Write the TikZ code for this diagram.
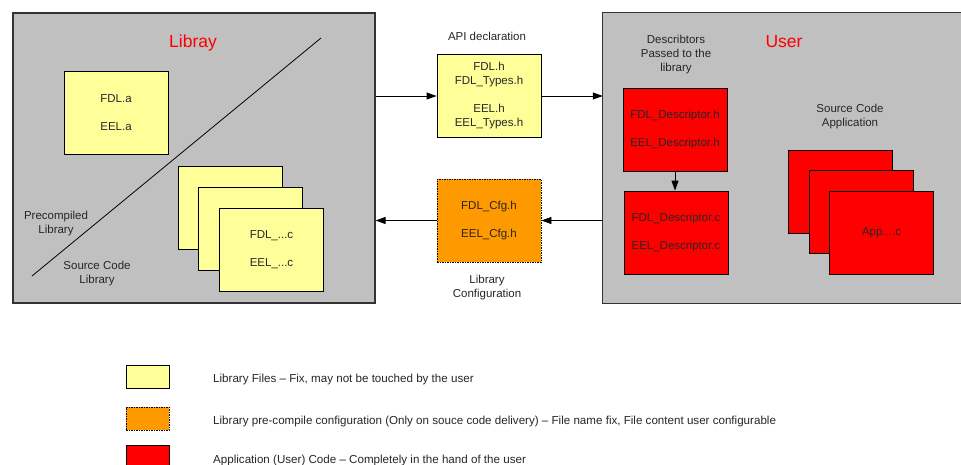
\documentclass[tikz,border=0pt]{standalone}
\usepackage{fontspec}
\setmainfont{Liberation Sans}
\usetikzlibrary{positioning,arrows.meta}

\definecolor{panelgray}{HTML}{C0C0C0}
\definecolor{libyellow}{HTML}{FFFF99}
\definecolor{cfgorange}{HTML}{FF9900}
\definecolor{usrred}{HTML}{FF0000}

\begin{document}
\begin{tikzpicture}[x=1pt,y=-1pt]
\tikzstyle{every node}+=[inner sep=0pt, font=\fontsize{11.5}{14}\selectfont, text=black!85]
\tikzstyle{panel}=[fill=panelgray]
\tikzstyle{panelline}=[draw=black!80, line width=1.2pt]
\tikzstyle{file}=[draw=black, line width=0.8pt, minimum width=104pt, minimum height=83pt, align=center]
\tikzstyle{libfile}=[file, fill=libyellow]
\tikzstyle{cfgfile}=[file, fill=cfgorange, dash pattern=on 1.5pt off 1pt]
\tikzstyle{usrfile}=[file, fill=usrred]
\tikzstyle{key}=[minimum width=43pt, minimum height=23pt]
\tikzstyle{keytext}=[anchor=west, font=\fontsize{11.6}{14}\selectfont]
\tikzstyle{title}=[text=red, font=\fontsize{17.5}{20}\selectfont]
\tikzstyle{note}=[align=center]
\tikzstyle{flow}=[-{Triangle[length=10pt,width=7pt]}, line width=0.8pt]

\useasboundingbox (0,0) rectangle (961,464);

% panels
\node[panel, panelline, minimum width=362pt, minimum height=290pt] (lib) at (194,158) {};
\node[panel, minimum width=359pt, minimum height=290pt] (usr) at (782.5,158) {};
\draw[panelline] (usr.north east) -- (usr.north west) -- (usr.south west) -- (usr.south east);

\node[title] (libtitle) at (193,43) {Libray};
\node[title] (usrtitle) at (784,42) {User};

% library side
\draw[line width=0.8pt] (321,38) -- (32,276);
\node[libfile] (fdla) at (116,112.5) {FDL.a\\[14pt]EEL.a};
\node[libfile] (srcA) at (230,208) {};
\node[libfile] (srcB) at (250.5,228.5) {};
\node[libfile] (srcC) at (271.5,249.5) {FDL\_...c\\[14pt]EEL\_...c};
\node[note] (precomp) at (56,224) {Precompiled\\Library};
\node[note] (srclib) at (97,274) {Source Code\\Library};

% interface files
\node[libfile] (apih) at (489,96) {FDL.h\\FDL\_Types.h\\[14pt]EEL.h\\EEL\_Types.h};
\node[cfgfile] (cfgh) at (489,220.5) {FDL\_Cfg.h\\[14pt]EEL\_Cfg.h};
\node[note] (apinote) at (487,36) {API declaration};
\node[note] (cfgnote) at (487,288) {Library\\Configuration};

% user side
\node[usrfile] (desch) at (675,129.5) {FDL\_Descriptor.h\\[14pt]EEL\_Descriptor.h};
\node[usrfile] (descc) at (676,232.5) {FDL\_Descriptor.c\\[14pt]EEL\_Descriptor.c};
\node[note] (descnote) at (676,55) {Describtors\\Passed to the\\library};
\node[usrfile] (appA) at (840,191.5) {};
\node[usrfile] (appB) at (861,212) {};
\node[usrfile] (appC) at (881.5,233) {App....c};
\node[note] (appnote) at (850,117) {Source Code\\Application};

% connectors
\draw[flow] (apih.west -| lib.east) -- (apih.west);
\draw[flow] (apih.east) -- (apih.east -| usr.west);
\draw[flow] (cfgh.east -| usr.west) -- (cfgh.east);
\draw[flow] (cfgh.west) -- (cfgh.west -| lib.east);
\draw[flow] (desch.south) -- (desch.south |- descc.north);

% legend
\node[libfile, key] (keylib) at (147.5,376.5) {};
\node[cfgfile, key] (keycfg) at (147.5,418.5) {};
\node[usrfile, key] (keyusr) at (147.5,456.5) {};
\node[keytext] (keylibtxt) at (213,379) {Library Files – Fix, may not be touched by the user};
\node[keytext] (keycfgtxt) at (213,421) {Library pre-compile configuration (Only on souce code delivery) – File name fix, File content user configurable};
\node[keytext] (keyusrtxt) at (213,460) {Application (User) Code – Completely in the hand of the user};
\end{tikzpicture}
\end{document}
